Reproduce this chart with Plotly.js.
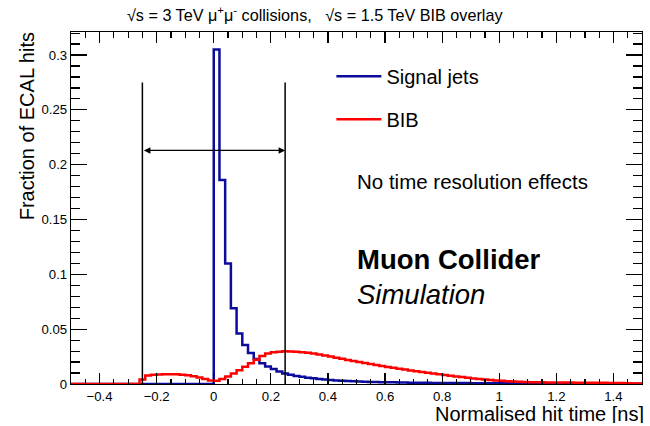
<!DOCTYPE html>
<html>
<head>
<meta charset="utf-8">
<script src="https://cdn.plot.ly/plotly-3.0.1.min.js"></script>
<style>html,body{margin:0;padding:0;background:#fff;}#chart{width:650px;height:426px;}</style>
</head>
<body>
<div id="chart"></div>
<script>
// Histogram binning (ns)
const binLow = -0.5;
const binWidth = 0.02;
const nBins = 100;

// Fraction of ECAL hits per bin, signal jets (bins from -0.5 to 1.5 ns)
const signalJets = [
  0,0,0,0,0,0,0,0,0,0,
  0,0,0,0,0,0,0,0,0,0,
  0,0,0,0,0,0.305,0.186,0.110,0.069,0.046,
  0.0355,0.0283,0.0228,0.0190,0.0160,0.0137,0.0115,0.0096,0.0084,0.0074,
  0.0066,0.0058,0.0052,0.0046,0.0041,0.0037,0.0033,0.0030,0.0027,0.0025,
  0.0023,0.0021,0.0019,0.0018,0.0017,0.0016,0.0015,0.0014,0.0013,0.0012,
  0.0012,0.0011,0.0011,0.0010,0.0010,0.0009,0.0009,0.0008,0.0008,0.0008,
  0.0007,0.0007,0.0007,0.0006,0.0006,0.0006,0.0006,0.0005,0.0005,0.0005,
  0.0005,0.0005,0.0004,0.0004,0.0004,0.0004,0.0004,0.0004,0.0004,0.0004,
  0.0003,0.0003,0.0003,0.0003,0.0003,0.0003,0.0003,0.0003,0.0003,0.0003
];

// Fraction of ECAL hits per bin, beam-induced background
const bib = [
  0,0,0,0,0,0,0,0,0,0,
  0,0,0.0040,0.0078,0.0084,0.0087,0.0089,0.0089,0.0088,0.0085,
  0.0079,0.0071,0.0060,0.0046,0.0033,0.0030,0.0045,0.0068,0.0095,0.0125,
  0.0158,0.0190,0.0222,0.0255,0.0278,0.0289,0.0295,0.0298,0.0297,0.0295,
  0.0290,0.0284,0.0277,0.0269,0.0260,0.0250,0.0240,0.0230,0.0220,0.0210,
  0.0200,0.0191,0.0182,0.0173,0.0164,0.0156,0.0148,0.0140,0.0132,0.0124,
  0.0117,0.0110,0.0102,0.0095,0.0088,0.0081,0.0075,0.0069,0.0063,0.0057,
  0.0051,0.0046,0.0041,0.0037,0.0033,0.0029,0.0026,0.0023,0.0021,0.0019,
  0.0017,0.0016,0.0015,0.0014,0.0014,0.0013,0.0013,0.0013,0.0012,0.0012,
  0.0012,0.0011,0.0011,0.0011,0.0010,0.0010,0.0009,0.0007,0.0005,0.0004
];

// Timing window and its marker heights
const windowEdges = [-0.25, 0.25];
const windowLineTop = 0.275;
const windowArrowY = 0.213;

const seriesNames = ['Signal jets', 'BIB'];
const xTickVals = [-0.4,-0.2,0,0.2,0.4,0.6,0.8,1,1.2,1.4];
const yTickVals = [0,0.05,0.1,0.15,0.2,0.25,0.3];

const FONT = 'Liberation Sans, Arial, Helvetica, sans-serif';

function edges() {
  const e = [];
  for (let i = 0; i <= nBins; i++) e.push(+(binLow + i * binWidth).toFixed(4));
  return e;
}
function stepY(vals) { return vals.concat([vals[vals.length - 1]]); }

const xe = edges();
const traces = [
  {x: xe, y: stepY(signalJets), type: 'scatter', mode: 'lines', name: seriesNames[0],
   legendgroup: 'a', line: {shape: 'hv', color: '#0c0c9c', width: 2.5}},
  {x: xe, y: stepY(bib), type: 'scatter', mode: 'lines', name: seriesNames[1],
   legendgroup: 'b', line: {shape: 'hv', color: '#ff0000', width: 2.5}}
];

const shapes = windowEdges.map(t => ({
  type: 'line', xref: 'x', yref: 'y', x0: t, x1: t, y0: 0, y1: windowLineTop,
  line: {color: 'black', width: 1.5}
}));

const annotations = [
  {x: windowEdges[1], y: windowArrowY, ax: windowEdges[0], ay: windowArrowY,
   xref: 'x', yref: 'y', axref: 'x', ayref: 'y', text: '', showarrow: true,
   arrowhead: 2, startarrowhead: 2, arrowside: 'end+start', arrowsize: 1, arrowwidth: 1.3,
   arrowcolor: 'black', standoff: 0, startstandoff: 0},
  {x: 0.498, y: 0.575, xref: 'paper', yref: 'paper', xanchor: 'left', yanchor: 'middle',
   text: 'No time resolution effects', showarrow: false, font: {family: FONT, size: 20.5, color: 'black'}},
  {x: 0.498, y: 0.353, xref: 'paper', yref: 'paper', xanchor: 'left', yanchor: 'middle',
   text: '<b>Muon Collider</b>', showarrow: false, font: {family: FONT, size: 27.5, color: 'black'}},
  {x: 0.498, y: 0.2535, xref: 'paper', yref: 'paper', xanchor: 'left', yanchor: 'middle',
   text: '<i>Simulation</i>', showarrow: false, font: {family: FONT, size: 27.5, color: 'black'}},
  {x: 1, y: -0.086, xshift: 4, xref: 'paper', yref: 'paper', xanchor: 'right', yanchor: 'middle',
   height: 18, valign: 'middle',
   text: 'Normalised hit time [ns]', showarrow: false, font: {family: FONT, size: 20, color: 'black'}},
  {x: -0.077, y: 1.005, xref: 'paper', yref: 'paper', xanchor: 'center', yanchor: 'top',
   textangle: -90, text: 'Fraction of ECAL hits', showarrow: false, font: {family: FONT, size: 20, color: 'black'}}
];

const axisCommon = {
  showline: true, linecolor: 'black', linewidth: 1.2, mirror: 'allticks',
  ticks: 'inside', tickcolor: 'black', tickwidth: 1.2,
  showgrid: false, zeroline: false,
  tickfont: {family: FONT, size: 13.2, color: 'black'}
};

const layout = {
  width: 650, height: 426,
  margin: {l: 71, r: 8, t: 32, b: 42},
  paper_bgcolor: 'white', plot_bgcolor: 'white',
  font: {family: FONT, color: 'black'},
  title: {text: '√s = 3 TeV μ<sup>+</sup>μ<sup>-</sup> collisions,   √s = 1.5 TeV BIB overlay',
          font: {family: FONT, size: 16.2, color: 'black'},
          xref: 'paper', x: 0.098, xanchor: 'left', yref: 'container', y: 0.965, yanchor: 'middle'},
  xaxis: Object.assign({}, axisCommon, {
    range: [-0.5, 1.5], tickvals: xTickVals, ticklen: 11,
    minor: {dtick: 0.05, tick0: 0, ticklen: 5.5, ticks: 'inside', tickcolor: 'black', tickwidth: 1.2}
  }),
  yaxis: Object.assign({}, axisCommon, {
    range: [0, 0.321], tickvals: yTickVals, ticklen: 16,
    minor: {dtick: 0.01, tick0: 0, ticklen: 9, ticks: 'inside', tickcolor: 'black', tickwidth: 1.2}
  }),
  showlegend: true,
  legend: {x: 0.456, y: 0.93, xanchor: 'left', yanchor: 'top', bgcolor: 'rgba(0,0,0,0)',
           font: {family: FONT, size: 20, color: 'black'}, tracegroupgap: 14, itemwidth: 45},
  shapes: shapes,
  annotations: annotations
};

Plotly.newPlot('chart', traces, layout, {staticPlot: true, displayModeBar: false});
</script>
</body>
</html>
